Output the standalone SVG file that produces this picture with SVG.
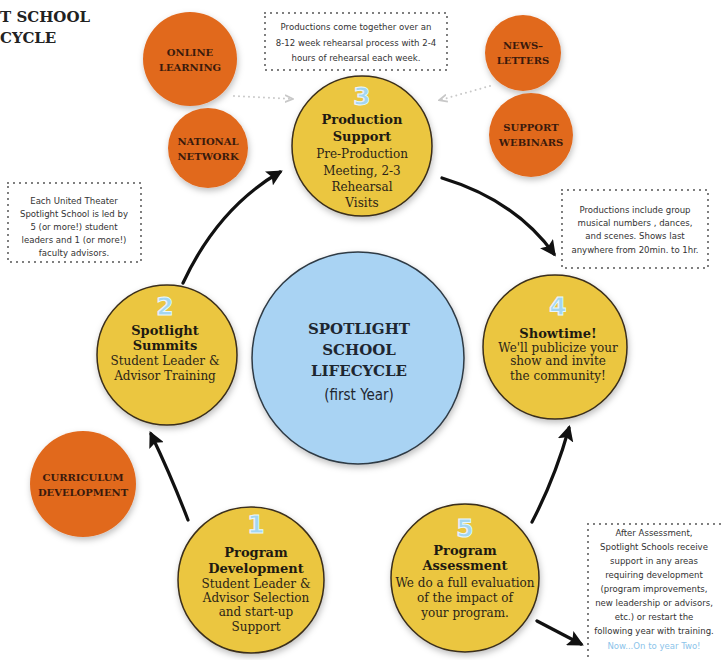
<svg xmlns="http://www.w3.org/2000/svg" width="721" height="660" viewBox="0 0 721 660">
<defs>
<filter id="sh" x="-20%" y="-20%" width="140%" height="140%"><feDropShadow dx="1" dy="3" stdDeviation="3" flood-color="#000" flood-opacity="0.25"/></filter>
<marker id="ah" viewBox="0 0 10 10" refX="8" refY="5" markerUnits="userSpaceOnUse" markerWidth="16" markerHeight="16" orient="auto"><path d="M0,0 L10,5 L0,10 L2,5 z" fill="#111"/></marker>
<marker id="ag" viewBox="0 0 10 10" refX="8" refY="5" markerUnits="userSpaceOnUse" markerWidth="9" markerHeight="9" orient="auto"><path d="M0,1 L9,5 L0,9" fill="none" stroke="#c8c8c8" stroke-width="2"/></marker>
<style>
.orange{fill:#e1691f;filter:url(#sh)}
.yellow{fill:#ebc63f;stroke:#3a2e1a;stroke-width:1.5;filter:url(#sh)}
.blue{fill:#a9d3f3;stroke:#2f3a44;stroke-width:1.5;filter:url(#sh)}
.ot{font-family:"DejaVu Serif","Liberation Serif",serif;font-weight:bold;font-size:10px;fill:#3a1a0c;text-anchor:middle}
.tt{font-family:"DejaVu Serif","Liberation Serif",serif;font-weight:bold;font-size:13px;fill:#1e1a12;text-anchor:middle}
.bt{font-family:"DejaVu Serif","Liberation Serif",serif;font-size:12px;fill:#2a2418;text-anchor:middle}
.num{font-family:"DejaVu Sans","Liberation Sans",sans-serif;font-weight:bold;font-size:25px;fill:#a3d6f1;stroke:#e8f6ff;stroke-width:1;text-anchor:middle}
.ct{font-family:"DejaVu Serif","Liberation Serif",serif;font-weight:bold;font-size:15px;fill:#1e2630;text-anchor:middle}
.hw{font-family:"DejaVu Sans Condensed","DejaVu Sans","Liberation Sans",sans-serif;font-size:9.5px;fill:#333;text-anchor:middle}
.box{fill:#fff;stroke:#555;stroke-width:2;stroke-dasharray:0 6;stroke-linecap:round}
.conn{fill:none;stroke:#111;stroke-width:3.2;stroke-linecap:round;marker-end:url(#ah)}
.dot{fill:none;stroke:#c8c8c8;stroke-width:2;stroke-dasharray:0 5;stroke-linecap:round;marker-end:url(#ag)}
</style>
</defs>
<rect width="721" height="660" fill="#fff"/>
<g id="title" font-family="'DejaVu Serif','Liberation Serif',serif" font-weight="bold" font-size="15" fill="#222">
<text x="0" y="22">T SCHOOL</text>
<text x="0" y="43">CYCLE</text>
</g>
<g id="connectors">
<path class="conn" d="M188,520 Q172,478 151,434"/>
<path class="conn" d="M183,283 Q218,208 280,172"/>
<path class="conn" d="M442,178 Q515,200 554,254"/>
<path class="conn" d="M532,522 Q555,478 569,428"/>
<path class="conn" d="M537,621 L581,644"/>
<path class="dot" d="M234,96 L292,99"/>
<path class="dot" d="M490,86 L440,100"/>
</g>
<g id="online-learning"><circle class="orange" cx="190" cy="59" r="47"/><text class="ot" x="190" y="56">ONLINE</text><text class="ot" x="190" y="71">LEARNING</text></g>
<g id="national-network"><circle class="orange" cx="208" cy="148" r="40"/><text class="ot" x="208" y="145">NATIONAL</text><text class="ot" x="208" y="160">NETWORK</text></g>
<g id="newsletters"><circle class="orange" cx="523" cy="53" r="38"/><text class="ot" x="523" y="49">NEWS–</text><text class="ot" x="523" y="64">LETTERS</text></g>
<g id="support-webinars"><circle class="orange" cx="531" cy="135" r="42"/><text class="ot" x="531" y="131">SUPPORT</text><text class="ot" x="531" y="146">WEBINARS</text></g>
<g id="curriculum-development"><circle class="orange" cx="83" cy="484" r="53"/><text class="ot" x="83" y="481">CURRICULUM</text><text class="ot" x="83" y="496">DEVELOPMENT</text></g>
<g id="center"><circle class="blue" cx="358" cy="358" r="106"/>
<text class="ct" x="359" y="334">SPOTLIGHT</text><text class="ct" x="359" y="355">SCHOOL</text><text class="ct" x="359" y="376">LIFECYCLE</text>
<text x="359" y="400" font-family="'DejaVu Sans Condensed','DejaVu Sans',sans-serif" font-size="15" fill="#1e2630" text-anchor="middle">(first Year)</text></g>
<g id="step3"><circle class="yellow" cx="362" cy="146" r="70"/>
<text class="num" x="362" y="105">3</text>
<text class="tt" x="362" y="124">Production</text><text class="tt" x="362" y="141">Support</text>
<text class="bt" x="362" y="158">Pre-Production</text><text class="bt" x="362" y="175">Meeting, 2-3</text><text class="bt" x="362" y="191">Rehearsal</text><text class="bt" x="362" y="207">Visits</text></g>
<g id="step2"><circle class="yellow" cx="167" cy="355" r="70"/>
<text class="num" x="165" y="315">2</text>
<text class="tt" x="165" y="335">Spotlight</text><text class="tt" x="165" y="350">Summits</text>
<text class="bt" x="165" y="365">Student Leader &amp;</text><text class="bt" x="165" y="380">Advisor Training</text></g>
<g id="step4"><circle class="yellow" cx="555" cy="347" r="72"/>
<text class="num" x="558" y="315">4</text>
<text class="tt" x="558" y="338">Showtime!</text>
<text class="bt" x="558" y="352">We'll publicize your</text><text class="bt" x="558" y="365">show and invite</text><text class="bt" x="558" y="380">the community!</text></g>
<g id="step1"><circle class="yellow" cx="251" cy="580" r="73"/>
<text class="num" x="256" y="533">1</text>
<text class="tt" x="256" y="557">Program</text><text class="tt" x="256" y="573">Development</text>
<text class="bt" x="256" y="588">Student Leader &amp;</text><text class="bt" x="256" y="602">Advisor Selection</text><text class="bt" x="256" y="616">and start-up</text><text class="bt" x="256" y="631">Support</text></g>
<g id="step5"><circle class="yellow" cx="465" cy="578" r="74"/>
<text class="num" x="465" y="537">5</text>
<text class="tt" x="465" y="555">Program</text><text class="tt" x="465" y="570">Assessment</text>
<text class="bt" x="465" y="587">We do a full evaluation</text><text class="bt" x="465" y="602">of the impact of</text><text class="bt" x="465" y="617">your program.</text></g>
<g id="note-production"><rect class="box" x="265" y="13" width="182" height="57"/>
<text class="hw" x="356" y="30">Productions come together over an</text><text class="hw" x="356" y="46">8-12 week rehearsal process with 2-4</text><text class="hw" x="356" y="61">hours of rehearsal each week.</text></g>
<g id="note-leaders"><rect class="box" x="8" y="183" width="133" height="79"/>
<text class="hw" x="74" y="204">Each United Theater</text><text class="hw" x="74" y="217">Spotlight School is led by</text><text class="hw" x="74" y="230">5 (or more!) student</text><text class="hw" x="74" y="243">leaders and 1 (or more!)</text><text class="hw" x="74" y="256">faculty advisors.</text></g>
<g id="note-showtime"><rect class="box" x="562" y="190" width="146" height="78"/>
<text class="hw" x="635" y="213">Productions include group</text><text class="hw" x="635" y="226">musical numbers , dances,</text><text class="hw" x="635" y="239">and scenes.  Shows last</text><text class="hw" x="635" y="253">anywhere from 20min. to 1hr.</text></g>
<g id="note-assessment"><rect class="box" x="588" y="524" width="150" height="150"/>
<text class="hw" x="654" y="536">After Assessment,</text><text class="hw" x="654" y="550">Spotlight Schools receive</text><text class="hw" x="654" y="564">support in any areas</text><text class="hw" x="654" y="578">requiring development</text><text class="hw" x="654" y="592">(program improvements,</text><text class="hw" x="654" y="606">new leadership or advisors,</text><text class="hw" x="654" y="620">etc.) or restart the</text><text class="hw" x="654" y="634">following year with training.</text><text class="hw" x="654" y="649" style="fill:#8cc4ea">Now...On to year Two!</text></g>
</svg>
